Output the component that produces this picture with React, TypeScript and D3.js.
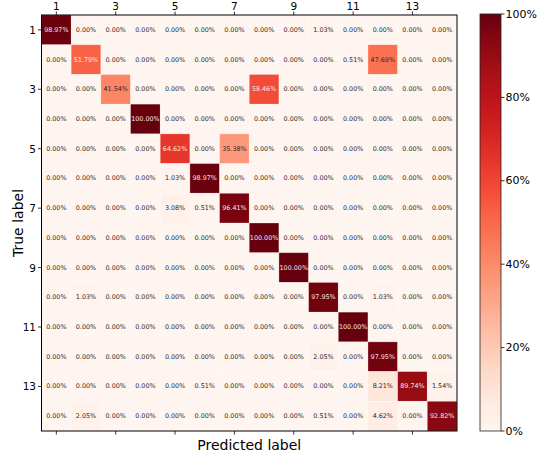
import React from "react";
import * as d3 from "d3";

// Class labels 1..14
const classes: number[] = d3.range(1, 15);
const tickClasses: number[] = [1, 3, 5, 7, 9, 11, 13];
const colorbarTicks: number[] = [0, 20, 40, 60, 80, 100];

// Row-normalised confusion matrix (%), rows = true label, columns = predicted label
const row1 = [98.97, 0, 0, 0, 0, 0, 0, 0, 0, 1.03, 0, 0, 0, 0];
const row2 = [0, 51.79, 0, 0, 0, 0, 0, 0, 0, 0, 0.51, 47.69, 0, 0];
const row3 = [0, 0, 41.54, 0, 0, 0, 0, 58.46, 0, 0, 0, 0, 0, 0];
const row4 = [0, 0, 0, 100, 0, 0, 0, 0, 0, 0, 0, 0, 0, 0];
const row5 = [0, 0, 0, 0, 64.62, 0, 35.38, 0, 0, 0, 0, 0, 0, 0];
const row6 = [0, 0, 0, 0, 1.03, 98.97, 0, 0, 0, 0, 0, 0, 0, 0];
const row7 = [0, 0, 0, 0, 3.08, 0.51, 96.41, 0, 0, 0, 0, 0, 0, 0];
const row8 = [0, 0, 0, 0, 0, 0, 0, 100, 0, 0, 0, 0, 0, 0];
const row9 = [0, 0, 0, 0, 0, 0, 0, 0, 100, 0, 0, 0, 0, 0];
const row10 = [0, 1.03, 0, 0, 0, 0, 0, 0, 0, 97.95, 0, 1.03, 0, 0];
const row11 = [0, 0, 0, 0, 0, 0, 0, 0, 0, 0, 100, 0, 0, 0];
const row12 = [0, 0, 0, 0, 0, 0, 0, 0, 0, 2.05, 0, 97.95, 0, 0];
const row13 = [0, 0, 0, 0, 0, 0.51, 0, 0, 0, 0, 0, 8.21, 89.74, 1.54];
const row14 = [0, 2.05, 0, 0, 0, 0, 0, 0, 0, 0.51, 0, 4.62, 0, 92.82];

const matrix: number[][] = [
  row1, row2, row3, row4, row5, row6, row7,
  row8, row9, row10, row11, row12, row13, row14,
];

const FONT = "'DejaVu Sans', sans-serif";

export default function App() {
  const width = 537;
  const height = 457;
  const left = 41.5;
  const right = 457;
  const top = 15;
  const bottom = 431;

  const x = d3.scaleBand<number>().domain(classes).range([left, right]);
  const y = d3.scaleBand<number>().domain(classes).range([top, bottom]);
  const color = (v: number) => d3.interpolateReds(v / 100);

  const cbX = 480;
  const cbW = 21;
  const cbY = d3.scaleLinear().domain([0, 100]).range([431, 14]);
  const gradStops = d3.range(0, 101, 2);

  const cx = (c: number) => (x(c) as number) + x.bandwidth() / 2;
  const cy = (c: number) => (y(c) as number) + y.bandwidth() / 2;

  return (
    <svg
      width={width}
      height={height}
      style={{ position: "absolute", left: 0, top: 0, background: "#fff" }}
      fontFamily={FONT}
    >
      <defs>
        <linearGradient id="cbGrad" x1="0" y1="1" x2="0" y2="0">
          {gradStops.map((s) => (
            <stop key={s} offset={`${s}%`} stopColor={color(s)} />
          ))}
        </linearGradient>
      </defs>

      {/* heatmap cells */}
      {matrix.map((row, i) =>
        row.map((v, j) => (
          <rect
            key={`c${i}-${j}`}
            x={x(classes[j])}
            y={y(classes[i])}
            width={x.bandwidth()}
            height={y.bandwidth()}
            fill={color(v)}
            stroke={v > 0.3 ? "rgba(255,255,255,0.35)" : "none"}
            strokeWidth={0.8}
          />
        ))
      )}

      {/* cell annotations */}
      {matrix.map((row, i) =>
        row.map((v, j) => (
          <text
            key={`t${i}-${j}`}
            x={cx(classes[j])}
            y={cy(classes[i])}
            textAnchor="middle"
            dominantBaseline="central"
            fontSize={6.4}
            fill={v > 50 ? "#fbe6e6" : "#2a2a2a"}
          >
            {v.toFixed(2) + "%"}
          </text>
        ))
      )}

      {/* frame */}
      <rect
        x={left}
        y={top}
        width={right - left}
        height={bottom - top}
        fill="none"
        stroke="#000"
        strokeWidth={1}
      />

      {/* top/bottom ticks and top labels */}
      {tickClasses.map((c) => (
        <g key={`tx${c}`}>
          <line x1={cx(c)} x2={cx(c)} y1={top} y2={top - 3.5} stroke="#000" strokeWidth={0.8} />
          <line x1={cx(c)} x2={cx(c)} y1={bottom} y2={bottom + 3.5} stroke="#000" strokeWidth={0.8} />
          <text x={cx(c)} y={top - 5.5} textAnchor="middle" fontSize={10.5} fill="#000">
            {c}
          </text>
        </g>
      ))}

      {/* left ticks and labels */}
      {tickClasses.map((c) => (
        <g key={`ty${c}`}>
          <line x1={left} x2={left - 3.5} y1={cy(c)} y2={cy(c)} stroke="#000" strokeWidth={0.8} />
          <text
            x={left - 5.5}
            y={cy(c)}
            textAnchor="end"
            dominantBaseline="central"
            fontSize={10.5}
            fill="#000"
          >
            {c}
          </text>
        </g>
      ))}

      {/* axis titles */}
      <text
        x={(left + right) / 2}
        y={450}
        textAnchor="middle"
        fontSize={14}
        fill="#000"
      >
        Predicted label
      </text>
      <text
        transform={`translate(22.5,${(top + bottom) / 2}) rotate(-90)`}
        textAnchor="middle"
        fontSize={14}
        fill="#000"
      >
        True label
      </text>

      {/* colorbar */}
      <rect
        x={cbX}
        y={cbY(100)}
        width={cbW}
        height={cbY(0) - cbY(100)}
        fill="url(#cbGrad)"
        stroke="#222"
        strokeWidth={0.8}
      />
      {colorbarTicks.map((t) => (
        <g key={`cb${t}`}>
          <line
            x1={cbX + cbW}
            x2={cbX + cbW + 3.5}
            y1={cbY(t)}
            y2={cbY(t)}
            stroke="#000"
            strokeWidth={0.8}
          />
          <text
            x={cbX + cbW + 4.5}
            y={cbY(t)}
            dominantBaseline="central"
            fontSize={11}
            fill="#000"
          >
            {t + "%"}
          </text>
        </g>
      ))}
    </svg>
  );
}
